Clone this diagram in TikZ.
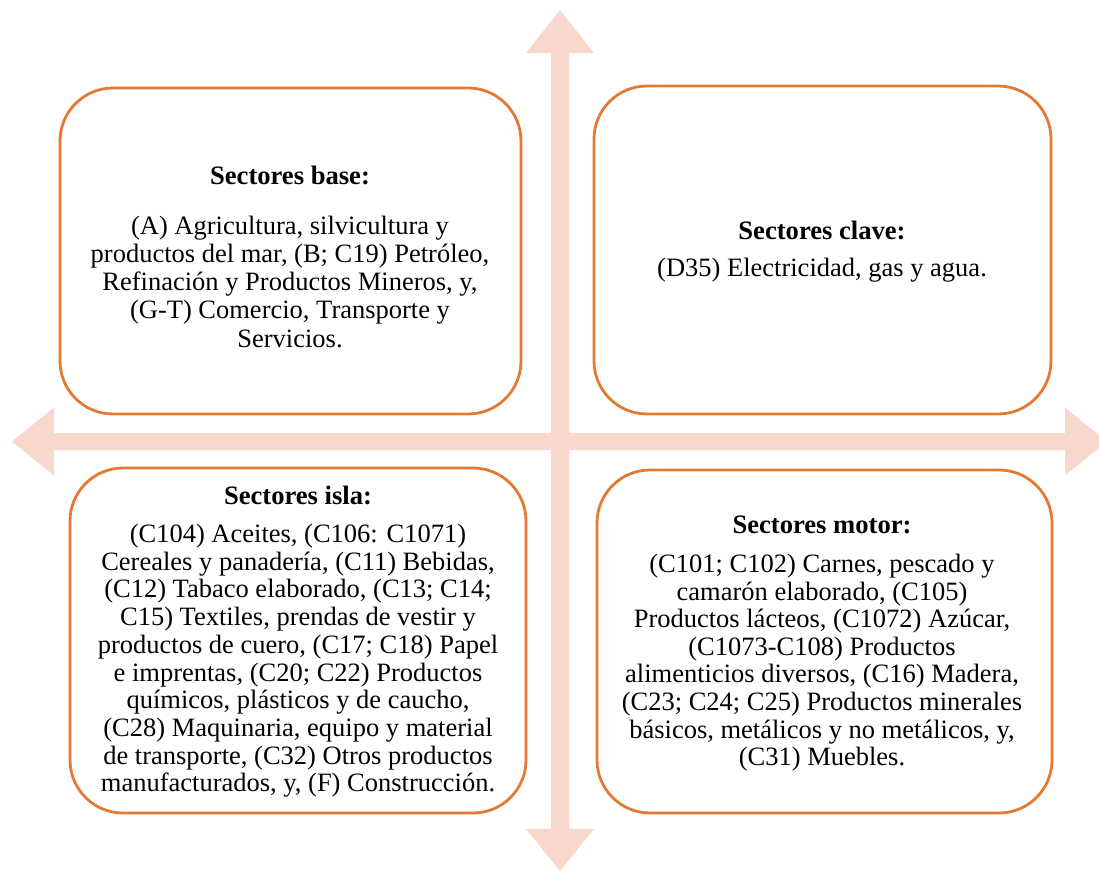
\documentclass[tikz,border=0pt]{standalone}
\usepackage{fontspec}
\setmainfont{Liberation Serif}
\definecolor{boxorange}{RGB}{228,121,51}
\definecolor{arrowpink}{RGB}{248,215,204}
\begin{document}
\begin{tikzpicture}[x=1pt,y=-1pt,
  quad/.style={draw=boxorange, line width=2.8pt, rounded corners=53pt, inner sep=0pt},
  title/.style={anchor=base, inner sep=0pt, font={\fontsize{26.6pt}{30pt}\selectfont\bfseries}},
  bodytext/.style={anchor=north, inner sep=0pt, align=center, font={\fontsize{26.5pt}{#1}\selectfont}},
  bigarrow/.style={fill=arrowpink}]
\useasboundingbox (0,0) rectangle (1099,870);
\clip (0,0) rectangle (1099,870);
% arrow tips
\coordinate (hl) at (12,441.5);
\coordinate (hr) at (1107,441.5);
\coordinate (vt) at (560,10);
\coordinate (vb) at (560,871);
\fill[bigarrow] (hl) -- (54,407.5) -- (54,433) -- (1065,433) -- (1065,407.5) -- (hr)
  -- (1065,475.5) -- (1065,450) -- (54,450) -- (54,475.5) -- cycle;
\fill[bigarrow] (vt) -- (594,53) -- (569,53) -- (569,829) -- (594,829) -- (vb)
  -- (526,829) -- (551,829) -- (551,53) -- (526,53) -- cycle;
% boxes
\node[quad, minimum width=461pt, minimum height=326pt] (tl) at (290.5,251) {};
\node[quad, minimum width=457pt, minimum height=328pt] (tr) at (822.5,250) {};
\node[quad, minimum width=456pt, minimum height=345pt] (bl) at (298,640.5) {};
\node[quad, minimum width=455pt, minimum height=343pt] (br) at (824.5,641.5) {};
% texts
\node[title] (tlt) at (290,184) {Sectores base:};
\node[bodytext=28.3pt] (tlb) at (290,215.5) {(A) Agricultura, silvicultura y\\
productos del mar, (B; C19) Petróleo,\\
Refinación y Productos Mineros, y,\\
(G-T) Comercio, Transporte y\\
Servicios.};
\node[title] (trt) at (822,239) {Sectores clave:};
\node[bodytext=28pt] (trb) at (822,258) {(D35) Electricidad, gas y agua.};
\node[title] (blt) at (298,504) {Sectores isla:};
\node[bodytext=27.7pt] (blb) at (298,524) {(C104) Aceites, (C106: C1071)\\
Cereales y panadería, (C11) Bebidas,\\
(C12) Tabaco elaborado, (C13; C14;\\
C15) Textiles, prendas de vestir y\\
productos de cuero, (C17; C18) Papel\\
e imprentas, (C20; C22) Productos\\
químicos, plásticos y de caucho,\\
(C28) Maquinaria, equipo y material\\
de transporte, (C32) Otros productos\\
manufacturados, y, (F) Construcción.};
\node[title] (brt) at (822,533) {Sectores motor:};
\node[bodytext=27.6pt] (brb) at (822,554) {(C101; C102) Carnes, pescado y\\
camarón elaborado, (C105)\\
Productos lácteos, (C1072) Azúcar,\\
(C1073-C108) Productos\\
alimenticios diversos, (C16) Madera,\\
(C23; C24; C25) Productos minerales\\
básicos, metálicos y no metálicos, y,\\
(C31) Muebles.};
\end{tikzpicture}
\end{document}
